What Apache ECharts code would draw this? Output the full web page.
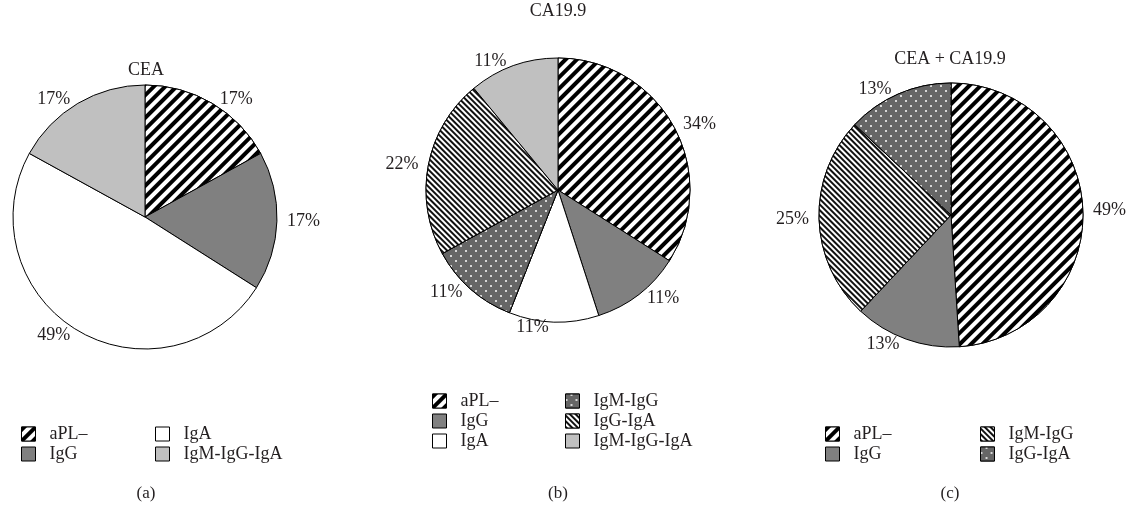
<!DOCTYPE html>
<html>
<head>
<meta charset="utf-8">
<script src="https://cdn.jsdelivr.net/npm/echarts/dist/echarts.min.js"></script>
<style>
  html, body { margin: 0; padding: 0; background: #fff; }
  #chart { width: 1132px; height: 509px; }
</style>
</head>
<body>
<div id="chart"></div>
<script>
// data (percent of patients)
const titles = ['CEA', 'CA19.9', 'CEA + CA19.9'];
const captions = ['(a)', '(b)', '(c)'];

const namesA = ['aPL–', 'IgG', 'IgA', 'IgM-IgG-IgA'];
const valuesA = [17, 17, 49, 17];

const namesB = ['aPL–', 'IgG', 'IgA', 'IgM-IgG', 'IgG-IgA', 'IgM-IgG-IgA'];
const valuesB = [34, 11, 11, 11, 22, 11];

const namesC = ['aPL–', 'IgG', 'IgM-IgG', 'IgG-IgA'];
const valuesC = [49, 13, 25, 13];

// which fill each slice uses
const fillsA = ['stripe', 'gray', 'white', 'light'];
const fillsB = ['stripe', 'gray', 'white', 'dots', 'hatch', 'light'];
const fillsC = ['stripe', 'gray', 'hatch', 'dots'];

const FONT = 'Liberation Serif';
const TXT = '#231f20';

const fills = {
  stripe: {
    color: '#fff',
    decal: { symbol: 'rect', symbolSize: 1, dashArrayX: [1, 0], dashArrayY: [4, 4],
      rotation: -Math.PI / 4, color: '#000', backgroundColor: '#fff' }
  },
  hatch: {
    color: '#fff',
    decal: { symbol: 'rect', symbolSize: 1, dashArrayX: [1, 0], dashArrayY: [2, 2],
      rotation: Math.PI / 4, color: '#111', backgroundColor: '#fff' }
  },
  dots: {
    color: '#666',
    decal: { symbol: 'circle', symbolSize: 1, dashArrayX: [[2, 8], [0, 5, 2, 3]], dashArrayY: [2, 3],
      rotation: 0, color: '#fff', backgroundColor: '#666' }
  },
  gray: { color: '#808080' },
  white: { color: '#fff' },
  light: { color: '#c0c0c0' }
};

function style(key) {
  const f = fills[key];
  const s = { color: f.color, borderColor: '#000', borderWidth: 1 };
  if (f.decal) s.decal = f.decal;
  return s;
}

function pieData(names, values, keys) {
  return names.map((n, i) => ({ name: n, value: values[i], itemStyle: style(keys[i]) }));
}

function pie(center, names, values, keys) {
  return {
    type: 'pie',
    center: center,
    radius: 132,
    startAngle: 90,
    clockwise: true,
    silent: true,
    avoidLabelOverlap: false,
    label: {
      show: true, position: 'outside', formatter: '{c}%',
      fontFamily: FONT, fontSize: 18, color: TXT
    },
    labelLine: { show: false, length: 5, length2: 0 },
    emphasis: { disabled: true },
    data: pieData(names, values, keys)
  };
}

function legend(left, top, names, keys) {
  return {
    orient: 'vertical',
    left: left,
    top: top,
    itemWidth: 14,
    itemHeight: 14,
    itemGap: 0,
    icon: 'rect',
    selectedMode: false,
    textStyle: { fontFamily: FONT, fontSize: 18, color: TXT, lineHeight: 20, padding: [0, 0, 0, 9] },
    data: names.map((n, i) => ({ name: n, itemStyle: style(keys[i]) }))
  };
}

const chart = echarts.init(document.getElementById('chart'), null, { renderer: 'canvas' });

const centers = [[145, 217], [558, 190], [951, 215]];
const titleY = [70, 11, 59];
const capX = [146, 558, 950];

chart.setOption({
  animation: false,
  backgroundColor: '#fff',
  series: [
    pie(centers[0], namesA, valuesA, fillsA),
    pie(centers[1], namesB, valuesB, fillsB),
    pie(centers[2], namesC, valuesC, fillsC)
  ],
  legend: [
    legend(16, 419, namesA.slice(0, 2), [fillsA[0], fillsA[1]]),
    legend(150, 419, namesA.slice(2), [fillsA[2], fillsA[3]]),
    legend(427, 386, namesB.slice(0, 3), fillsB.slice(0, 3)),
    legend(560, 386, namesB.slice(3), fillsB.slice(3)),
    legend(820, 419, namesC.slice(0, 2), fillsC.slice(0, 2)),
    legend(975, 419, namesC.slice(2), fillsC.slice(2))
  ],
  graphic: titles.map((t, i) => ({
    type: 'text', x: capX[i], y: titleY[i],
    style: { text: t, textAlign: 'center', textVerticalAlign: 'middle', font: '18px "' + FONT + '"', fill: TXT }
  })).concat(captions.map((c, i) => ({
    type: 'text', x: capX[i], y: 494,
    style: { text: c, textAlign: 'center', textVerticalAlign: 'middle', font: '17px "' + FONT + '"', fill: TXT }
  })))
});
</script>
</body>
</html>
